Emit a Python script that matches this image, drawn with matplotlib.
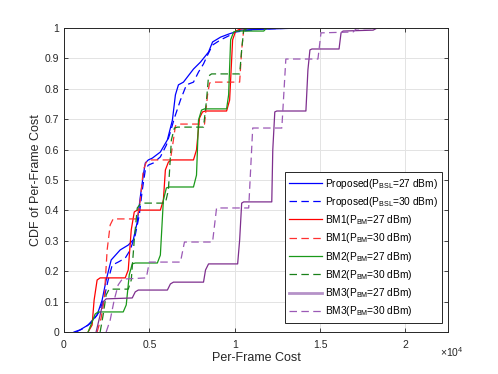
import matplotlib
matplotlib.use('Agg')
import matplotlib.pyplot as plt
from matplotlib.ticker import FuncFormatter, MultipleLocator

plt.rcParams['font.family'] = ['Liberation Sans', 'DejaVu Sans']
plt.rcParams['mathtext.fontset'] = 'custom'
plt.rcParams['mathtext.rm'] = 'Liberation Sans'
plt.rcParams['mathtext.it'] = 'Liberation Sans:italic'

# CDF curves (x = per-frame cost, y = CDF)
prop27_x = [588, 941, 1412, 1941, 2235, 2471, 2765, 3294, 3765, 4059, 4294, 4471, 4647, 4765, 4941,
            5176, 5647, 6059, 6353, 6529, 6706, 7000, 7588, 8000, 8471, 8706, 9176, 9647, 10353, 12118, 13882]
prop27_y = [0, .007, .023, .056, .105, .171, .237, .270, .286, .303, .362, .444, .516, .556, .566,
            .572, .592, .632, .697, .780, .813, .822, .865, .888, .921, .954, .970, .980, .993, .997, 1.0]

prop30_x = [706, 1176, 1647, 2059, 2353, 2588, 2824, 3176, 3588, 3882, 4176, 4412, 4588, 4765, 4941, 5235,
            5647, 6000, 6235, 6471, 6824, 7176, 7588, 7882, 8176, 8412, 8706, 9176, 9647, 10059, 11529, 13882]
prop30_y = [0, .013, .033, .066, .112, .171, .220, .230, .243, .270, .319, .385, .467, .533, .549, .556,
            .576, .615, .658, .704, .763, .813, .822, .855, .882, .911, .944, .961, .974, .987, .997, 1.0]

bm1_27_x = [1412, 1647, 1765, 1941, 2118, 3588, 3765, 3941, 4118, 4294, 5647, 5824, 5941, 6118, 6294,
            7588, 7765, 7941, 8118, 8294, 9529, 9706, 9882, 10059, 10353, 10647]
bm1_27_y = [0, .023, .105, .171, .178, .178, .204, .336, .395, .401, .401, .434, .533, .559, .566,
            .566, .599, .704, .724, .727, .727, .763, .961, .990, .997, 1.0]

bm1_30_x = [1941, 2176, 2353, 2529, 2706, 2882, 4294, 4471, 4647, 4824, 5000, 6235, 6412, 6529, 6706,
            8235, 8412, 8529, 8706, 10294, 10412, 10529, 10824]
bm1_30_y = [0, .046, .105, .270, .352, .372, .372, .434, .533, .559, .566, .566, .632, .678, .684,
            .684, .780, .819, .822, .822, .928, .993, 1.0]

bm2_27_x = [1412, 1647, 1824, 2000, 3471, 3647, 3824, 4000, 4176, 5471, 5647, 5824, 6000, 6176, 7588,
            7765, 7882, 8059, 8235, 9529, 9647, 9765, 9941, 10118, 11706, 11824, 12000]
bm2_27_y = [0, .033, .059, .066, .066, .089, .188, .224, .227, .227, .253, .434, .474, .477, .477,
            .516, .697, .730, .734, .734, .780, .961, .987, .990, .990, .997, 1.0]

bm2_30_x = [2118, 2294, 2471, 2647, 3765, 3941, 4118, 4294, 4471, 4588, 5941, 6118, 6294, 6471, 6647,
            8176, 8353, 8471, 8647, 10294, 10412, 10529, 10824]
bm2_30_y = [0, .056, .122, .141, .141, .171, .303, .408, .421, .424, .424, .467, .632, .671, .674,
            .674, .763, .842, .849, .849, .928, .993, 1.0]

bm3_27_x = [1882, 2118, 2294, 2471, 4000, 4176, 4353, 6059, 6235, 6412, 8176, 8294, 8471, 10176, 10294,
            10412, 10529, 12176, 12235, 12353, 12471, 14176, 14294, 14412, 14529, 16118, 16235, 16353,
            18118, 18353]
bm3_27_y = [0, .056, .099, .109, .112, .132, .138, .138, .158, .164, .164, .204, .224, .224, .303,
            .424, .428, .428, .599, .724, .727, .727, .862, .928, .931, .931, .984, .990, .993, 1.0]

bm3_30_x = [2471, 2706, 2941, 3176, 3412, 4824, 5000, 6824, 7059, 8706, 8941, 10824, 11059, 12765,
            13000, 14882, 15059, 16941, 17118, 19176]
bm3_30_y = [0, .039, .105, .155, .174, .178, .230, .230, .296, .296, .408, .408, .671, .671,
            .898, .898, .984, .987, .997, 1.0]

labels = [r'Proposed(P$_{\rm BSL}$=27 dBm)', r'Proposed(P$_{\rm BSL}$=30 dBm)',
          r'BM1(P$_{\rm BM}$=27 dBm)', r'BM1(P$_{\rm BM}$=30 dBm)',
          r'BM2(P$_{\rm BM}$=27 dBm)', r'BM2(P$_{\rm BM}$=30 dBm)',
          r'BM3(P$_{\rm BM}$=27 dBm)', r'BM3(P$_{\rm BM}$=30 dBm)']

dash = (0, (6, 3.5))
fig = plt.figure(figsize=(4.98, 3.74), dpi=100)
ax = fig.add_axes([0.1285, 0.1123, 0.771, 0.8128])

ax.plot(prop27_x, prop27_y, color='#0000ff', lw=0.9, label=labels[0])
ax.plot(prop30_x, prop30_y, color='#0000ff', lw=0.9, ls=dash, label=labels[1])
ax.plot(bm1_27_x, bm1_27_y, color='#ff0000', lw=0.9, label=labels[2])
ax.plot(bm1_30_x, bm1_30_y, color='#ff3030', lw=0.9, ls=dash, label=labels[3])
ax.plot(bm2_27_x, bm2_27_y, color='#1a991a', lw=0.9, label=labels[4])
ax.plot(bm2_30_x, bm2_30_y, color='#1a801a', lw=0.9, ls=dash, label=labels[5])
ax.plot(bm3_27_x, bm3_27_y, color='#7e2f8e', lw=0.9, label=labels[6])
ax.plot(bm3_30_x, bm3_30_y, color='#9b59b6', lw=0.9, ls=dash, label=labels[7])

ax.set_xlim(0, 22500)
ax.set_ylim(0, 1)
ax.xaxis.set_major_locator(MultipleLocator(5000))
ax.yaxis.set_major_locator(MultipleLocator(0.1))
ax.xaxis.set_major_formatter(FuncFormatter(lambda v, p: '%g' % (v / 1e4)))
ax.yaxis.set_major_formatter(FuncFormatter(lambda v, p: '%g' % round(v, 1)))
ax.tick_params(direction='in', top=True, right=True, labelsize=7.5, length=3, width=0.6,
               colors='#262626')
ax.tick_params(axis='x', pad=6)
ax.tick_params(axis='y', pad=3.5)
ax.grid(True, color='#e3e3e3', lw=0.7)
ax.set_axisbelow(True)
for s in ax.spines.values():
    s.set_color('#262626')
    s.set_linewidth(0.7)

ax.set_xlabel('Per-Frame Cost', fontsize=9, color='#262626')
ax.set_ylabel('CDF of Per-Frame Cost', fontsize=9, color='#262626')
ax.xaxis.set_label_coords(0.5, -0.066)
ax.yaxis.set_label_coords(-0.057, 0.5)
ax.text(0.98, -0.065, r'$\times10^{4}$', transform=ax.transAxes, fontsize=7.5,
        color='#262626', ha='left', va='center')

leg = ax.legend(loc='lower right', bbox_to_anchor=(0.985, 0.03), borderaxespad=0,
                fontsize=7.3, fancybox=False, framealpha=1, edgecolor='#262626',
                handlelength=3.2, handletextpad=0.3, labelspacing=0.42, borderpad=0.45)
leg.get_frame().set_linewidth(0.7)
leg.get_lines()[6].set_color('#b592c8')
leg.get_lines()[6].set_linewidth(2)

fig.savefig('out.png', dpi=100, facecolor='white')
